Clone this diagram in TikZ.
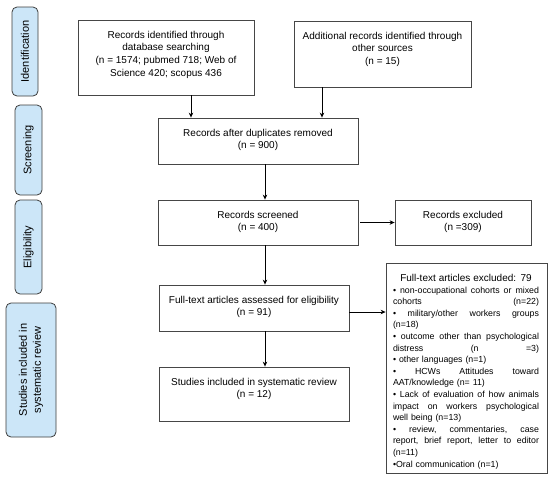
\documentclass[tikz,border=0pt]{standalone}
\usepackage{fontspec}
\setmainfont{Liberation Sans}
\usetikzlibrary{arrows.meta}
\definecolor{sideblue}{RGB}{204,230,248}
\definecolor{sideedge}{RGB}{60,60,60}
\definecolor{edge}{RGB}{70,70,70}
\newcommand\exJ[1]{\hbox to146pt{#1}}
\newcommand\exL[1]{\hbox to146pt{#1\hfil}}
\newcommand\jg{\hskip .25em plus 1fill\relax}
\begin{document}
\begin{tikzpicture}[x=1pt,y=-1pt,
  mainbox/.style={draw=edge, line width=0.8pt, inner sep=0pt},
  maintxt/.style={anchor=north, inner sep=0pt, align=center, font=\fontsize{10}{12.7}\selectfont},
  sidebox/.style={draw=sideedge, fill=sideblue, line width=0.8pt, rounded corners=5pt, rotate=90, inner sep=0pt, align=center, font=\fontsize{11}{14}\selectfont},
  arr/.style={-{Stealth[length=5pt,width=4.5pt]}, line width=0.8pt, black}]
\useasboundingbox (0,0) rectangle (550,480);

% side phase boxes
\node[sidebox, minimum width=89pt, minimum height=26pt] (s1) at (25,51.5) {Identification};
\node[sidebox, minimum width=90pt, minimum height=27pt] (s2) at (28.5,150) {Screening};
\node[sidebox, minimum width=94pt, minimum height=27pt] (s3) at (28.5,247) {Eligibility};
\node[sidebox, minimum width=134pt, minimum height=50pt] (s4) at (31,370) {Studies included in\\systematic review};

% main boxes
\node[mainbox, minimum width=176pt, minimum height=75pt] (b1) at (166,57.5) {};
\node[mainbox, minimum width=177pt, minimum height=66pt] (b2) at (382.5,54) {};
\node[mainbox, minimum width=200pt, minimum height=46pt] (b3) at (258,141) {};
\node[mainbox, minimum width=200pt, minimum height=45pt] (b4) at (258,222.5) {};
\node[mainbox, minimum width=136pt, minimum height=45pt] (x1) at (463,222.5) {};
\node[mainbox, minimum width=190pt, minimum height=46pt] (b5) at (254,308) {};
\node[mainbox, minimum width=190pt, minimum height=54pt] (b6) at (254,394) {};
\node[mainbox, minimum width=161pt, minimum height=210pt] (x2) at (466.5,368) {};

% texts
\node[maintxt] (t1) at ([yshift=-11pt]b1.north) {Records identified through\\database searching\\(n = 1574; pubmed 718; Web of\\Science 420; scopus 436};
\node[maintxt] (t2) at ([yshift=-11pt]b2.north) {Additional records identified through\\other sources\\(n = 15)};
\node[maintxt] (t3) at ([yshift=-11pt]b3.north) {Records after duplicates removed\\(n = 900)};
\node[maintxt] (t4) at ([yshift=-11pt]b4.north) {Records screened\\(n = 400)};
\node[maintxt] (tx1) at ([yshift=-11pt]x1.north) {Records excluded\\(n =309)};
\node[maintxt] (t5) at ([yshift=-11pt]b5.north) {Full-text articles assessed for eligibility\\(n = 91)};
\node[maintxt] (t6) at ([yshift=-11pt]b6.north) {Studies included in systematic review\\(n = 12)};

\node[anchor=north, inner sep=0pt, text width=146pt, font=\fontsize{8.8}{11.6}\selectfont] (tx2) at (466,274) {%
\exJ{\hfil{\fontsize{10}{11.6}\selectfont Full-text articles excluded: 79}\hfil}
\exJ{•\jg non-occupational\jg cohorts\jg or\jg mixed}
\exJ{cohorts\jg (n=22)}
\exJ{•\jg military/other\jg workers\jg groups}
\exL{(n=18)}
\exJ{•\jg outcome\jg other\jg than\jg psychological}
\exJ{distress\jg (n\jg =3)}
\exL{• other languages (n=1)}
\exJ{•\jg HCWs\jg Attitudes\jg toward}
\exL{AAT/knowledge (n= 11)}
\exJ{•\jg Lack\jg of\jg evaluation\jg of\jg how\jg animals}
\exJ{impact\jg on\jg workers\jg psychological}
\exL{well being (n=13)}
\exJ{•\jg review,\jg commentaries,\jg case}
\exJ{report,\jg brief\jg report,\jg letter\jg to\jg editor}
\exL{(n=11)}
\exL{•Oral communication (n=1)}%
};

% connectors
\draw[arr] ([xshift=25pt]b1.south) -- ([xshift=25pt]b1.south |- b3.north);
\draw[arr] ([xshift=-60.5pt]b2.south) -- ([xshift=-60.5pt]b2.south |- b3.north);
\draw[arr] ([xshift=7pt]b3.south) -- ([xshift=7pt]b3.south |- b4.north);
\draw[arr] ([xshift=2pt]b4.east) -- (x1.west);
\draw[arr] ([xshift=7pt]b4.south) -- ([xshift=7pt]b4.south |- b5.north);
\draw[arr] ([xshift=11pt]b5.south) -- ([xshift=11pt]b5.south |- b6.north);
\draw[arr] ([yshift=-4pt]b5.east) -- ([yshift=-4pt]b5.east -| x2.west);
\end{tikzpicture}
\end{document}
